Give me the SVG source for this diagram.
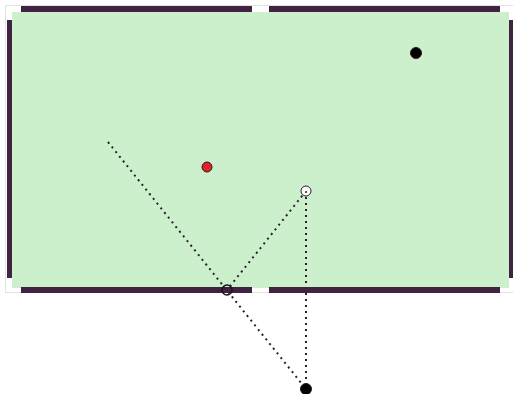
<svg xmlns="http://www.w3.org/2000/svg" width="513" height="394" viewBox="0 0 513 394">
<style>
.rail{fill:#3f2340}
.dot{stroke:#2e1e2e;stroke-width:2;stroke-dasharray:2 4;fill:none}
.ball{stroke:#2a1a2a;stroke-width:1}
</style>
<rect x="0" y="0" width="513" height="394" fill="#ffffff"/>
<g id="table">
<rect x="5.5" y="5.5" width="508" height="287" fill="none" stroke="#e2e2e2" stroke-width="1"/>
<rect x="12" y="12" width="497" height="276" fill="#ccf0cc"/>
<rect class="rail" x="21" y="6" width="231" height="6"/>
<rect class="rail" x="269" y="6" width="231" height="6"/>
<rect class="rail" x="21" y="287" width="231" height="6"/>
<rect class="rail" x="269" y="287" width="231" height="6"/>
<rect class="rail" x="7" y="20" width="5" height="258"/>
<rect class="rail" x="509" y="20" width="5" height="258"/>
</g>
<g id="connectors">
<line class="dot" x1="108" y1="142" x2="306" y2="389"/>
<line class="dot" x1="306" y1="191" x2="227" y2="290"/>
<line class="dot" x1="306" y1="191" x2="306" y2="389"/>
</g>
<g id="ball-black"><circle class="ball" cx="416" cy="53" r="5.5" fill="#000000"/></g>
<g id="ball-red"><circle class="ball" cx="207" cy="167" r="5" fill="#e02424"/></g>
<g id="ball-cue"><circle class="ball" cx="306" cy="191" r="5" fill="#ffffff"/><circle cx="306" cy="192" r="1" fill="#2e1e2e"/></g>
<g id="ghost-ball"><circle cx="227" cy="290" r="5" fill="none" stroke="#1a0f1a" stroke-width="1.5"/></g>
<g id="ball-bottom"><circle class="ball" cx="306" cy="389" r="5.5" fill="#000000"/></g>
</svg>
